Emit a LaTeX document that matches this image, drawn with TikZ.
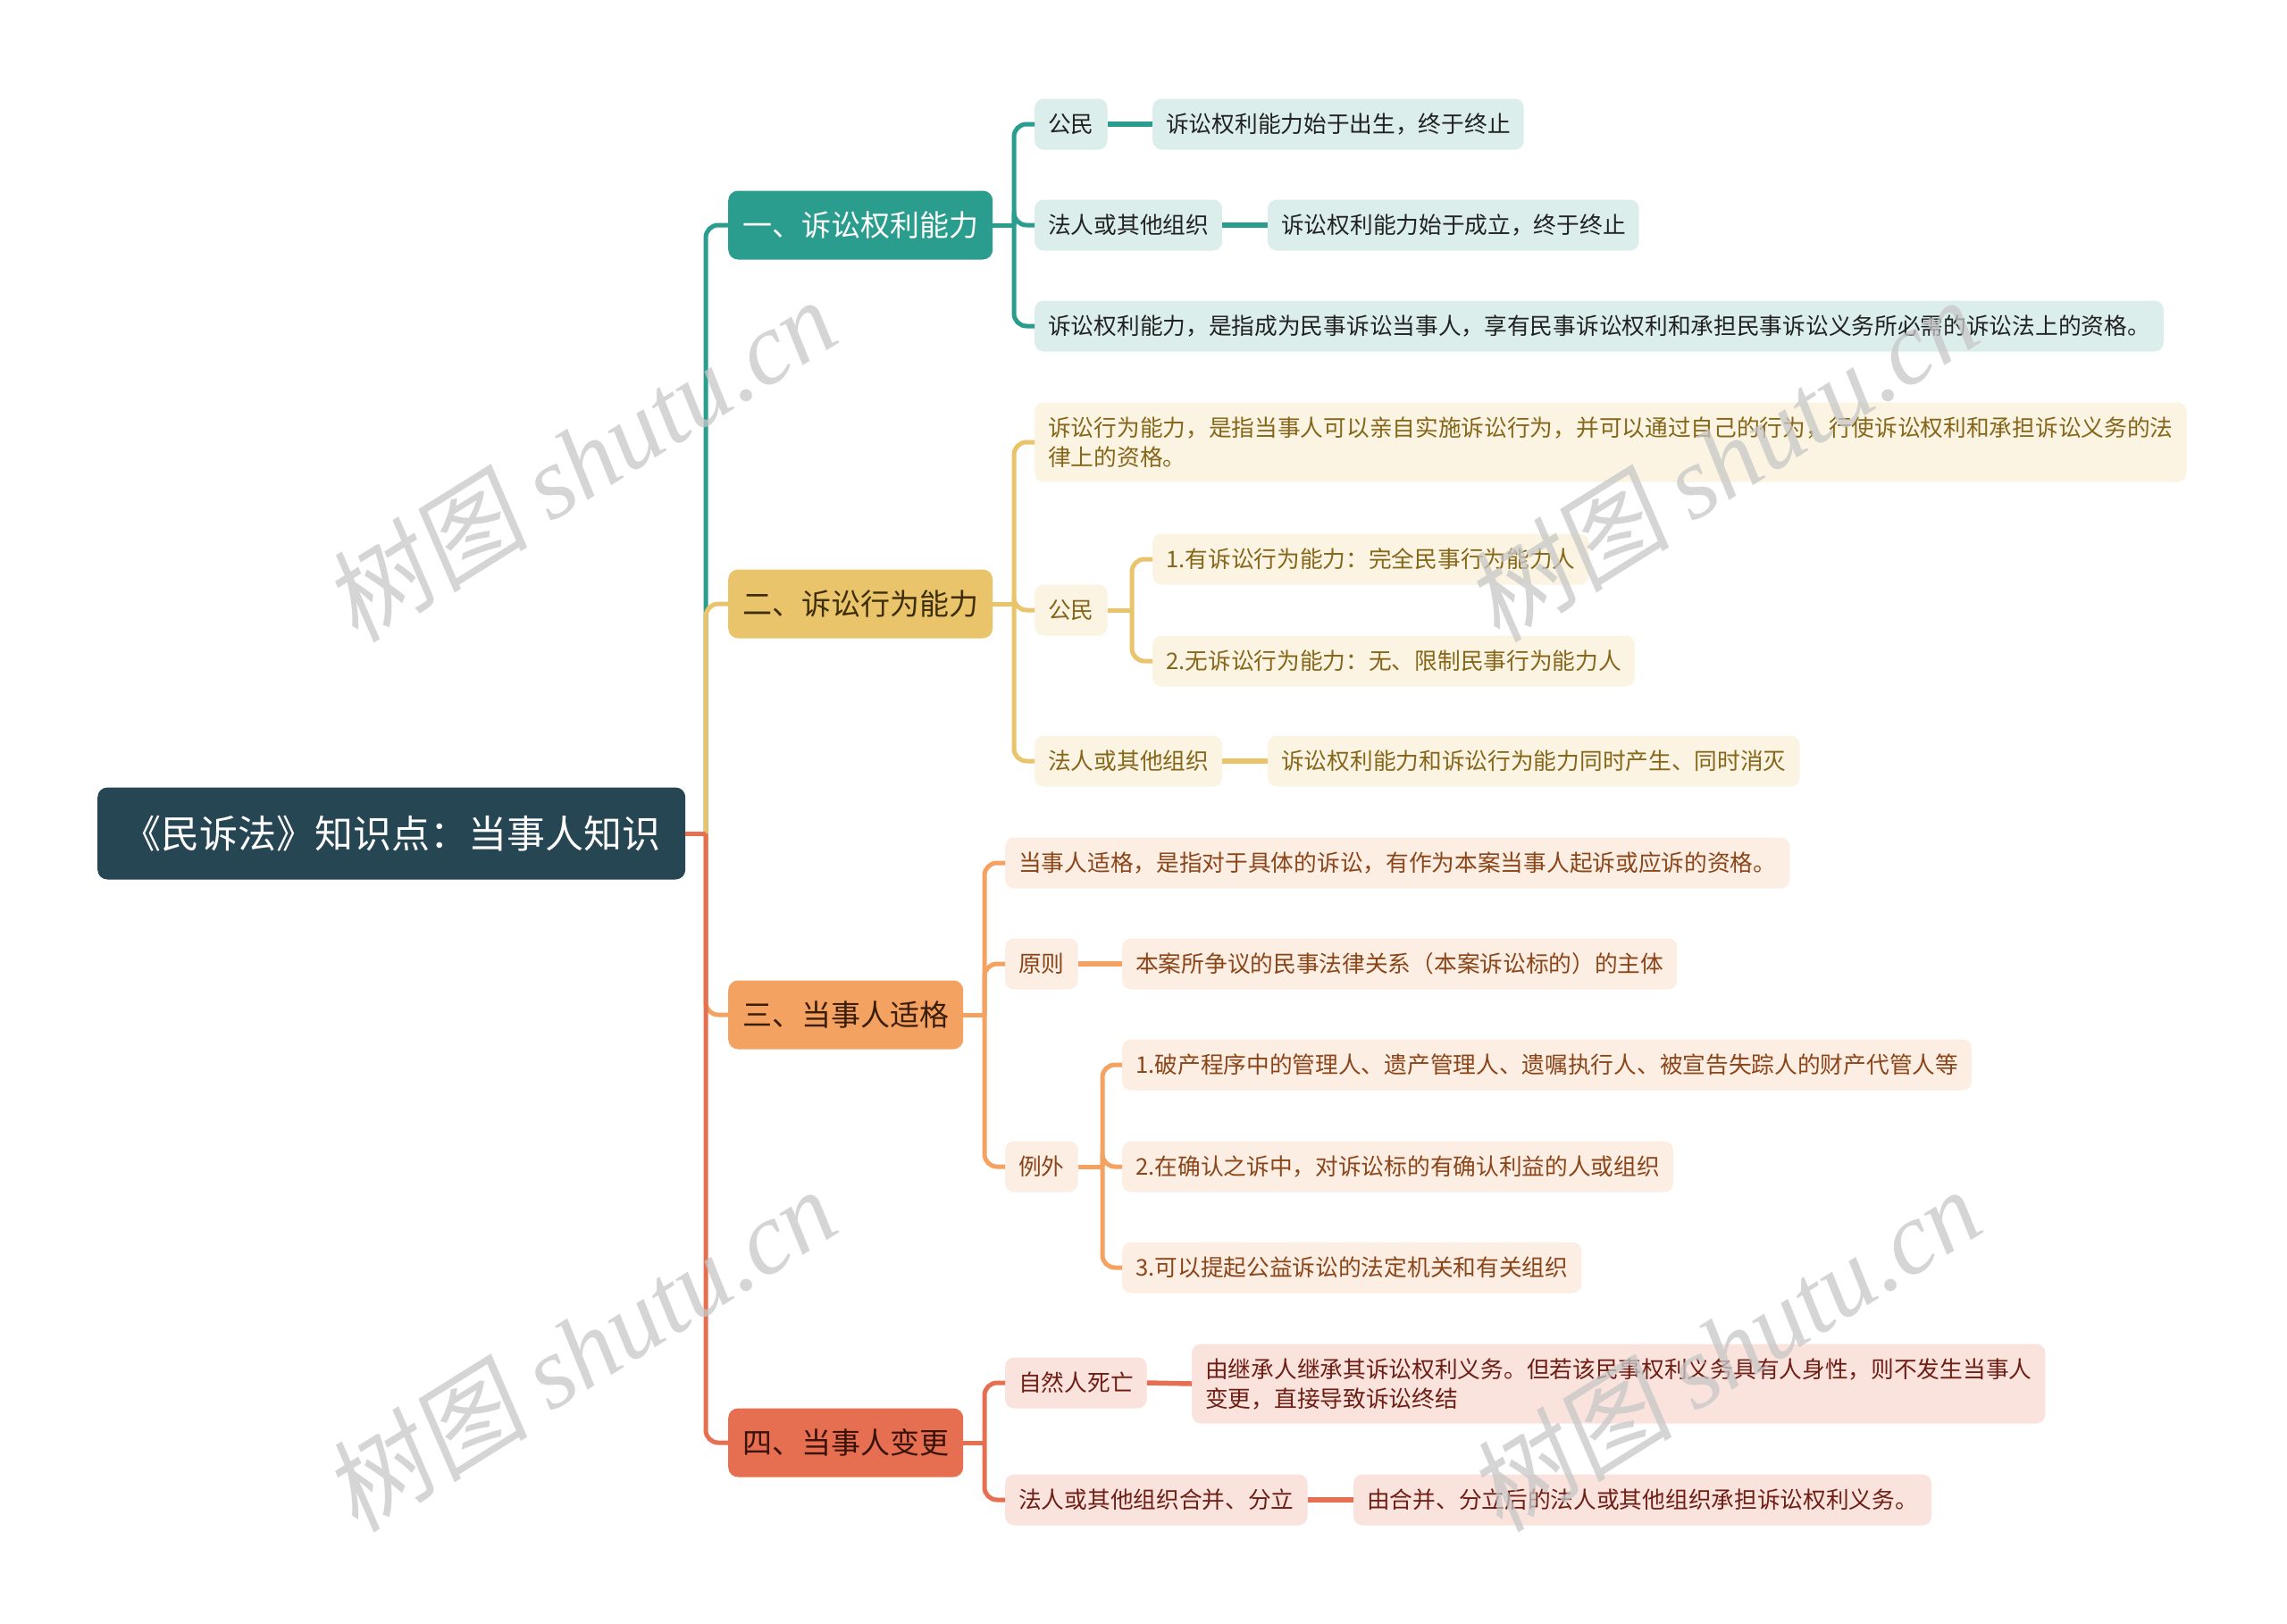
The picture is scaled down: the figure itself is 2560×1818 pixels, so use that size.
\documentclass[tikz,border=0pt]{standalone}
\usepackage{fontspec}
\setmainfont{Noto Sans CJK SC}
\newfontfamily\wmlat{Liberation Serif}
\newfontfamily\wmcjk[FakeSlant=0.15]{Noto Sans CJK SC}
\definecolor{rootc}{HTML}{264653}
\definecolor{tealc}{HTML}{2A9D8F}
\definecolor{goldc}{HTML}{E9C46A}
\definecolor{orgc}{HTML}{F4A261}
\definecolor{redc}{HTML}{E76F51}
\definecolor{tealL}{HTML}{DBEEEB}
\definecolor{goldL}{HTML}{FBF4E2}
\definecolor{orgL}{HTML}{FDEEE3}
\definecolor{redL}{HTML}{FAE3DD}
\definecolor{txA}{HTML}{222222}
\definecolor{txB}{HTML}{86661A}
\definecolor{txC}{HTML}{8A461A}
\definecolor{txD}{HTML}{6E1E14}
\definecolor{hdB}{HTML}{3D2E08}
\definecolor{hdC}{HTML}{3B1D08}
\definecolor{hdD}{HTML}{3A1208}
\tikzset{
  leafbase/.style={rounded corners=10pt, inner xsep=15pt, inner ysep=0pt, minimum height=57pt,
    anchor=west, font=\fontsize{25.7}{33}\selectfont, align=left},
  twoline/.style={minimum height=89pt},
  leafA/.style={leafbase, fill=tealL, text=txA},
  leafB/.style={leafbase, fill=goldL, text=txB},
  leafC/.style={leafbase, fill=orgL, text=txC},
  leafD/.style={leafbase, fill=redL, text=txD},
  headbox/.style={rounded corners=11pt, inner xsep=16pt, inner ysep=0pt, minimum height=77pt,
    anchor=west, font=\fontsize{33}{40}\selectfont},
  rootbox/.style={rounded corners=11pt, inner xsep=28pt, inner ysep=0pt, minimum height=103pt,
    anchor=west, fill=rootc, text=white, font=\fontsize{43}{50}\selectfont},
  trunk/.style={line width=5pt, rounded corners=14pt},
  link/.style={line width=5.5pt},
  wm/.style={text=black!22, opacity=0.75, font=\fontsize{115}{120}\selectfont, rotate=32}
}
\begin{document}
\begin{tikzpicture}[x=1pt, y=-1pt]
\useasboundingbox (0,0) rectangle (2560,1818);
\fill[white] (0,0) rectangle (2560,1818);

% root and level 1
\node[rootbox] (root) at (109,933) {《民诉法》知识点：当事人知识};
\node[headbox, fill=tealc, text=white] (n1) at (815,252) {一、诉讼权利能力};
\node[headbox, fill=goldc, text=hdB] (n2) at (815,676) {二、诉讼行为能力};
\node[headbox, fill=orgc, text=hdC] (n3) at (815,1136) {三、当事人适格};
\node[headbox, fill=redc, text=hdD] (n4) at (815,1615) {四、当事人变更};

% branch 1
\node[leafA] (a1) at (1158,139) {公民};
\node[leafA] (a1t) at (1290,139) {诉讼权利能力始于出生，终于终止};
\node[leafA] (a2) at (1158,252) {法人或其他组织};
\node[leafA] (a2t) at (1419,252) {诉讼权利能力始于成立，终于终止};
\node[leafA] (a3) at (1158,365) {诉讼权利能力，是指成为民事诉讼当事人，享有民事诉讼权利和承担民事诉讼义务所必需的诉讼法上的资格。};

% branch 2
\node[leafB, twoline] (b1) at (1158,495) {诉讼行为能力，是指当事人可以亲自实施诉讼行为，并可以通过自己的行为，行使诉讼权利和承担诉讼义务的法\\律上的资格。};
\node[leafB] (b2) at (1158,683) {公民};
\node[leafB] (b21) at (1290,626) {1.有诉讼行为能力：完全民事行为能力人};
\node[leafB] (b22) at (1290,740) {2.无诉讼行为能力：无、限制民事行为能力人};
\node[leafB] (b3) at (1158,852) {法人或其他组织};
\node[leafB] (b3t) at (1419,852) {诉讼权利能力和诉讼行为能力同时产生、同时消灭};

% branch 3
\node[leafC] (c1) at (1125,966) {当事人适格，是指对于具体的诉讼，有作为本案当事人起诉或应诉的资格。};
\node[leafC] (c2) at (1125,1079) {原则};
\node[leafC] (c2t) at (1256,1079) {本案所争议的民事法律关系（本案诉讼标的）的主体};
\node[leafC] (c3) at (1125,1306) {例外};
\node[leafC] (c31) at (1256,1192) {1.破产程序中的管理人、遗产管理人、遗嘱执行人、被宣告失踪人的财产代管人等};
\node[leafC] (c32) at (1256,1306) {2.在确认之诉中，对诉讼标的有确认利益的人或组织};
\node[leafC] (c33) at (1256,1419) {3.可以提起公益诉讼的法定机关和有关组织};

% branch 4
\node[leafD] (d1) at (1125,1548) {自然人死亡};
\node[leafD, twoline] (d1t) at (1334,1549) {由继承人继承其诉讼权利义务。但若该民事权利义务具有人身性，则不发生当事人\\变更，直接导致诉讼终结};
\node[leafD] (d2) at (1125,1679) {法人或其他组织合并、分立};
\node[leafD] (d2t) at (1515,1679) {由合并、分立后的法人或其他组织承担诉讼权利义务。};

% junctions
\coordinate (j0) at (790,933);
\coordinate (j1) at (1135,252);
\coordinate (j2) at (1135,676);
\coordinate (j3) at (1102,1136);
\coordinate (j4) at (1102,1615);
\coordinate (j22) at (1267,683);
\coordinate (j33) at (1234,1306);

% root connectors
\draw[trunk, tealc] (j0) |- (n1.west);
\draw[trunk, goldc] (j0) |- (n2.west);
\draw[trunk, orgc] (j0) |- (n3.west);
\draw[trunk, redc] (j0) |- (n4.west);
\draw[trunk, redc] (root.east) -- (j0);

% branch 1 connectors
\draw[trunk, tealc] (n1.east) -- (j1);
\draw[trunk, tealc] (j1) |- (a1.west);
\draw[trunk, tealc] (j1) |- (a2.west);
\draw[trunk, tealc] (j1) |- (a3.west);
\draw[link, tealc] (a1.east) -- (a1t.west);
\draw[link, tealc] (a2.east) -- (a2t.west);

% branch 2 connectors
\draw[trunk, goldc] (n2.east) -- (j2);
\draw[trunk, goldc] (j2) |- (b1.west);
\draw[trunk, goldc] (j2) |- (b2.west);
\draw[trunk, goldc] (j2) |- (b3.west);
\draw[trunk, goldc] (b2.east) -- (j22);
\draw[trunk, goldc] (j22) |- (b21.west);
\draw[trunk, goldc] (j22) |- (b22.west);
\draw[link, goldc] (b3.east) -- (b3t.west);

% branch 3 connectors
\draw[trunk, orgc] (n3.east) -- (j3);
\draw[trunk, orgc] (j3) |- (c1.west);
\draw[trunk, orgc] (j3) |- (c2.west);
\draw[trunk, orgc] (j3) |- (c3.west);
\draw[link, orgc] (c2.east) -- (c2t.west);
\draw[trunk, orgc] (c3.east) -- (j33);
\draw[trunk, orgc] (j33) |- (c31.west);
\draw[trunk, orgc] (j33) |- (c32.west);
\draw[trunk, orgc] (j33) |- (c33.west);

% branch 4 connectors
\draw[trunk, redc] (n4.east) -- (j4);
\draw[trunk, redc] (j4) |- (d1.west);
\draw[trunk, redc] (j4) |- (d2.west);
\draw[link, redc] (d1.east) -- (d1t.west);
\draw[link, redc] (d2.east) -- (d2t.west);

% watermarks
\node[wm] (w1) at (649,514) {\wmcjk 树图 \wmlat\itshape shutu.cn};
\node[wm] (w2) at (1927,514) {\wmcjk 树图 \wmlat\itshape shutu.cn};
\node[wm] (w3) at (649,1510) {\wmcjk 树图 \wmlat\itshape shutu.cn};
\node[wm] (w4) at (1930,1510) {\wmcjk 树图 \wmlat\itshape shutu.cn};
\end{tikzpicture}
\end{document}
